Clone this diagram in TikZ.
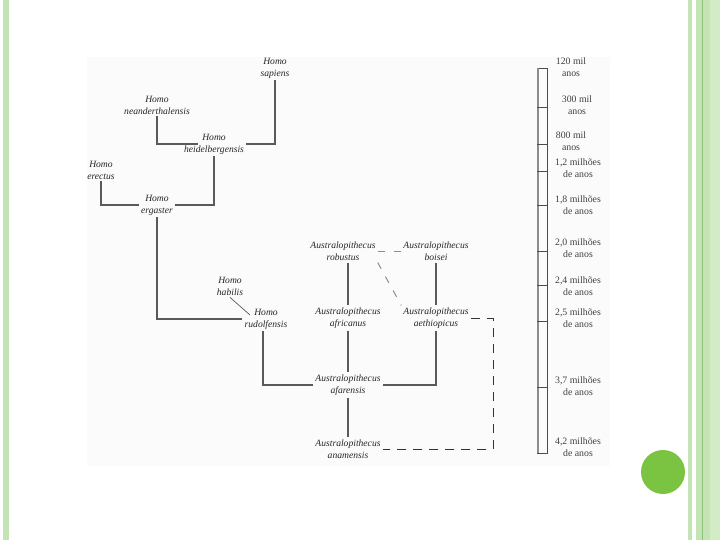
\documentclass[tikz,border=0pt]{standalone}
\usepackage{fontspec}
\setmainfont{Liberation Serif}
\usetikzlibrary{calc}
\definecolor{stripe}{HTML}{C5E4B6}
\definecolor{stripelight}{HTML}{D3EBC7}
\definecolor{stripedark}{HTML}{8CC47A}
\definecolor{dotgreen}{HTML}{7BC441}
\definecolor{linegray}{HTML}{5A5A5A}
\begin{document}
\begin{tikzpicture}[x=1pt,y=-1pt,
  taxon/.style={font=\fontsize{9.6}{12}\selectfont\itshape, align=center, inner sep=2pt, text=black!85},
  age/.style={font=\fontsize{9.8}{12}\selectfont, align=center, inner sep=0pt, text=black!75},
  link/.style={draw=linegray, line width=1.3pt},
  thinlink/.style={draw=linegray, line width=0.7pt},
  dashlink/.style={draw=black!45, line width=1pt, dash pattern=on 7pt off 9pt},
  bracket/.style={draw=black!80, line width=0.9pt, dash pattern=on 9pt off 7pt},
  tick/.style={draw=black!70, line width=0.7pt}]
\useasboundingbox (0,0) rectangle (720,540);
\fill[white] (0,0) rectangle (720,540);
% frame stripes
\fill[stripe] (3,0) rectangle (9,540);
\fill[stripe] (688,0) rectangle (692,540);
\fill[stripe] (696,0) rectangle (702,540);
\fill[stripedark] (702,0) rectangle (703.3,540);
\fill[stripe] (703.3,0) rectangle (710,540);
\fill[stripelight] (710,0) rectangle (720,540);
\fill[black!1.5] (87,57) rectangle (610,466);
\fill[dotgreen] (663,472) circle (22pt);
% taxa
\node[taxon] (sap) at (275,68) {Homo\\sapiens};
\node[taxon] (nea) at (157,105) {Homo\\neanderthalensis};
\node[taxon] (hei) at (214,144) {Homo\\heidelbergensis};
\node[taxon] (ere) at (101,170) {Homo\\erectus};
\node[taxon] (erg) at (157,205) {Homo\\ergaster};
\node[taxon] (hab) at (230,286) {Homo\\habilis};
\node[taxon] (rud) at (266,319) {Homo\\rudolfensis};
\node[taxon] (rob) at (343,251) {Australopithecus\\robustus};
\node[taxon] (boi) at (436,251) {Australopithecus\\boisei};
\node[taxon] (afr) at (348,318) {Australopithecus\\africanus};
\node[taxon] (aet) at (436,318) {Australopithecus\\aethiopicus};
\node[taxon] (afa) at (348,385) {Australopithecus\\afarensis};
\node[taxon] (ana) at (348,449) {Australopithecus\\anamensis};
% tree
\draw[link] (sap.south) |- (hei.east);
\draw[link] (nea.south) |- ($(hei.center)+(-16,0)$);
\draw[link] (hei.south) |- (erg.east);
\draw[link] (ere.south) |- (erg.west);
\draw[link] (erg.south) |- (rud.west);
\draw[thinlink] (hab.south) -- ($(rud.center)+(-16,-4)$);
\draw[link] ($(rud.south)+(-3,0)$) |- (afa.west);
\draw[link] (afa.east) -| (aet.south);
\draw[link] (afr.north |- rob.south) -- (afr.north);
\draw[link] (afr.south) -- (afa.north);
\draw[link] (afa.south) -- (ana.north);
\draw[link] (boi.south) -- (aet.north);
\draw[dashlink] (rob.east) -- (boi.west);
\draw[dashlink] (rob.south east) -- (aet.north west);
\coordinate (br) at (493,400);
\draw[bracket] (aet.east) -- (aet.east -| br) -- (br |- ana.east) -- (ana.east);
% timeline
\draw[draw=black!70, line width=0.7pt] (537,68) rectangle (547,453);
\draw[draw=black!45, line width=2.2pt] (538,68) -- (538,453);
\foreach \ty in {107,144,171,205,251,285,321,387}
  \draw[tick] (537,\ty) -- (547,\ty);
\node[age] (a1) at (571,67) {120 mil\\anos};
\node[age] (a2) at (577,105) {300 mil\\anos};
\node[age] (a3) at (571,141) {800 mil\\anos};
\node[age] (a4) at (578,168) {1,2 milhões\\de anos};
\node[age] (a5) at (578,205) {1,8 milhões\\de anos};
\node[age] (a6) at (578,248) {2,0 milhões\\de anos};
\node[age] (a7) at (578,286) {2,4 milhões\\de anos};
\node[age] (a8) at (578,318) {2,5 milhões\\de anos};
\node[age] (a9) at (578,386) {3,7 milhões\\de anos};
\node[age] (a10) at (578,447) {4,2 milhões\\de anos};
\end{tikzpicture}
\end{document}
